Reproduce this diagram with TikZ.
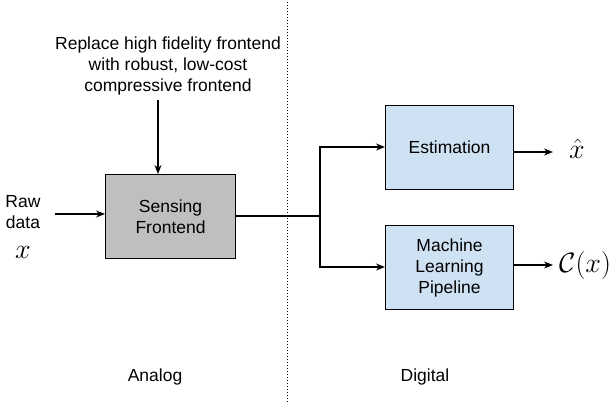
\RequirePackage{fix-cm}
\documentclass[tikz,border=0pt]{standalone}
\usepackage{fontspec}
\setmainfont{Liberation Sans}
\usepackage{amsmath}
\usetikzlibrary{arrows.meta}
\definecolor{boxgray}{RGB}{191,190,192}
\definecolor{boxblue}{RGB}{207,226,243}
\begin{document}
\begin{tikzpicture}[x=1pt,y=-1pt,
  lbl/.style={font=\fontsize{17.5}{21}\selectfont, align=center, inner sep=0pt},
  blk/.style={draw, line width=1.1pt, minimum width=128pt, minimum height=84pt, anchor=north west, align=center, font=\fontsize{17.5}{21}\selectfont},
  mth/.style={inner sep=0pt, font=\fontsize{28}{28}\selectfont},
  conn/.style={line width=1.1pt},
  arr/.style={conn, -{Stealth[length=9pt,width=7pt]}}]
\useasboundingbox (0,0) rectangle (613,404);
% dotted divider
\coordinate (dtop) at (287,2);
\coordinate (dbot) at (287,402);
\draw[line width=1pt, dash pattern=on 1pt off 2pt] (dtop) -- (dbot);
% blocks
\node[blk, fill=boxgray, minimum width=130pt] (sense) at (105,174) {Sensing\\Frontend};
\node[blk, fill=boxblue] (est) at (385,105) {Estimation};
\node[blk, fill=boxblue] (ml) at (385,225) {Machine\\Learning\\Pipeline};
% texts
\node[lbl] (note) at (168,66) {Replace high fidelity frontend\\with robust, low-cost\\compressive frontend};
\node[lbl] (raw) at (23,212) {Raw\\data};
\node[mth] (xin) at (23,252) {$x$};
\node[mth, anchor=west] (xhat) at (569,149) {$\hat{x}$};
\node[mth, anchor=west] (cx) at (559,265) {$\mathcal{C}(x)$};
\node[lbl] (analog) at (155,377) {Analog};
\node[lbl] (digital) at (425,377) {Digital};
% connectors
\coordinate (inL) at (55,214);
\draw[arr] (inL) -- (sense.west |- inL);
\coordinate (noteB) at (158,100);
\draw[arr] (noteB) -- (sense.north -| noteB);
\coordinate (split) at (320,216);
\draw[conn] (sense.east |- split) -- (split);
\draw[arr] (split) |- (est.west |- 0,147);
\draw[arr] (split) |- (ml.west |- 0,267);
\draw[arr] (est.east |- 0,152) -- (553,152);
\draw[arr] (ml.east |- 0,265) -- (553,265);
\end{tikzpicture}
\end{document}
